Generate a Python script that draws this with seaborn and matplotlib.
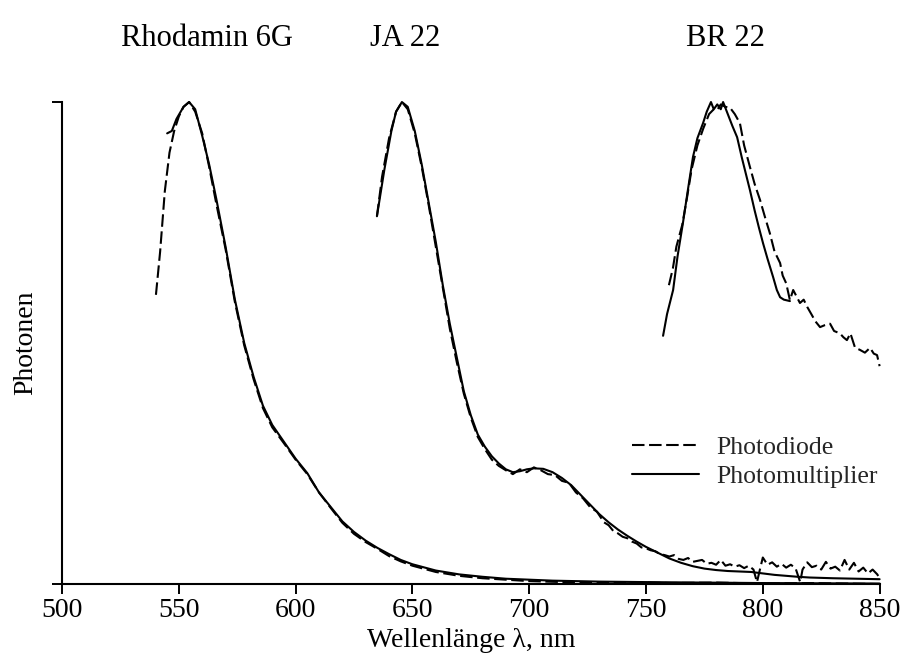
import matplotlib
matplotlib.use("Agg")
import matplotlib.pyplot as plt
import seaborn as sns
import pandas as pd

# ------------------------------------------------------------------------------
# Data (normalised photon counts vs. wavelength in nm)
# ------------------------------------------------------------------------------

# Rhodamin 6G
r6g_pm_wl = [545, 547, 549, 552, 554.4, 557, 560, 563, 566, 570, 574, 578, 582, 586,
             590, 595, 600, 605, 610, 615, 620, 625, 630, 635, 640, 645, 650, 660,
             670, 680, 690, 700, 710, 730, 750, 775, 800, 850]
r6g_pm_val = [0.935, 0.94, 0.965, 0.99, 1.0, 0.985, 0.93, 0.87, 0.80, 0.70, 0.59, 0.50,
              0.43, 0.37, 0.33, 0.295, 0.26, 0.23, 0.19, 0.16, 0.13, 0.108, 0.09, 0.075,
              0.062, 0.05, 0.041, 0.028, 0.02, 0.015, 0.011, 0.009, 0.007, 0.005, 0.004,
              0.003, 0.002, 0.001]
r6g_pd_wl = [540.2, 542, 544, 546, 548, 550, 552, 554.4, 557, 560, 563, 566, 570, 574,
             578, 582, 586, 590, 595, 600, 605, 610, 615, 620, 625, 630, 635, 640, 645,
             650, 660, 670, 680, 690, 700, 715, 730, 745, 760, 780, 800, 820, 850]
r6g_pd_val = [0.60, 0.69, 0.815, 0.895, 0.94, 0.97, 0.99, 1.0, 0.98, 0.935, 0.865, 0.79,
              0.695, 0.585, 0.495, 0.425, 0.365, 0.325, 0.292, 0.258, 0.228, 0.19, 0.158,
              0.127, 0.104, 0.087, 0.073, 0.058, 0.047, 0.038, 0.025, 0.017, 0.012,
              0.009, 0.006, 0.004, 0.003, 0.004, 0.002, 0.003, 0.001, 0.002, 0.0]

# JA 22
ja22_pm_wl = [634.8, 638, 641, 643, 645.5, 648, 651, 654, 657, 660, 663, 666, 669, 672,
              675, 678, 681, 684, 687, 690, 693, 696, 699, 702, 706, 710, 714, 718, 722,
              726, 730, 734, 738, 742, 746, 750, 755, 760, 765, 770, 775, 780, 785, 790,
              795, 800, 805, 810, 815, 820, 830, 840, 850]
ja22_pm_val = [0.763, 0.86, 0.94, 0.98, 1.0, 0.99, 0.94, 0.87, 0.79, 0.71, 0.62, 0.54,
               0.47, 0.40, 0.35, 0.31, 0.285, 0.265, 0.25, 0.238, 0.232, 0.234, 0.238,
               0.24, 0.239, 0.232, 0.22, 0.205, 0.185, 0.165, 0.145, 0.128, 0.113, 0.1,
               0.088, 0.077, 0.065, 0.053, 0.044, 0.037, 0.032, 0.029, 0.027, 0.026,
               0.025, 0.022, 0.019, 0.017, 0.015, 0.0135, 0.012, 0.011, 0.01]
ja22_pd_wl = [634.8, 637, 640, 643, 645.5, 648, 651, 654, 657, 660, 663, 666, 669, 672,
              675, 678, 681, 684, 687, 690, 693, 696, 699, 702, 705, 708, 711, 714, 717,
              720, 723, 726, 729, 732, 734, 736, 738, 740, 742, 744, 746, 748, 750, 752,
              754, 756, 758, 760, 762, 764, 766, 768, 770, 772, 774, 776, 778, 780, 782,
              784, 786, 788, 790, 792, 794, 796, 797.5, 799, 800, 802, 804, 806, 808,
              810, 812, 814, 816, 817, 819, 821, 823, 825, 827, 829, 831, 833, 835, 837,
              839, 841, 843, 845, 847, 849, 850]
ja22_pd_val = [0.763, 0.845, 0.925, 0.98, 1.0, 0.985, 0.935, 0.865, 0.785, 0.70, 0.615,
               0.53, 0.46, 0.395, 0.345, 0.305, 0.28, 0.258, 0.245, 0.236, 0.228, 0.238,
               0.232, 0.242, 0.236, 0.228, 0.226, 0.214, 0.21, 0.19, 0.178, 0.16, 0.15,
               0.128, 0.122, 0.11, 0.105, 0.098, 0.095, 0.088, 0.084, 0.076, 0.074, 0.07,
               0.068, 0.062, 0.06, 0.057, 0.06, 0.052, 0.05, 0.054, 0.046, 0.048, 0.05,
               0.042, 0.044, 0.04, 0.05, 0.038, 0.041, 0.036, 0.039, 0.033, 0.038, 0.03,
               0.004, 0.035, 0.055, 0.04, 0.045, 0.036, 0.042, 0.034, 0.04, 0.033, 0.004,
               0.03, 0.045, 0.035, 0.038, 0.03, 0.046, 0.032, 0.036, 0.028, 0.05, 0.03,
               0.044, 0.026, 0.034, 0.022, 0.03, 0.02, 0.012]

# BR 22
br22_pm_wl = [757.3, 759, 761.6, 763.5, 765.8, 768, 770.1, 772, 774.4, 776, 777.8, 779,
              780.5, 782, 783, 785, 787, 789, 791, 792.8, 794.5, 796.5, 798.3, 800.1,
              802, 804.4, 806, 807.4, 809, 811.6]
br22_pm_val = [0.515, 0.56, 0.61, 0.68, 0.749, 0.82, 0.886, 0.925, 0.956, 0.98, 1.0,
               0.985, 0.995, 0.985, 1.0, 0.975, 0.95, 0.927, 0.885, 0.85, 0.817, 0.775,
               0.74, 0.707, 0.675, 0.637, 0.61, 0.595, 0.59, 0.587]
br22_pd_wl = [759.8, 761.5, 763, 765.5, 767.5, 769.5, 772, 774.5, 777, 779, 780.4, 782,
              784, 786, 788, 790.2, 792, 794.5, 796.5, 798.8, 801, 803, 805, 807.4,
              808.5, 810, 811.6, 813, 815.9, 817.5, 819, 821, 822.5, 824.5, 826.5, 828.8,
              830.5, 833, 834.5, 836, 837.5, 839.5, 841.5, 843.7, 845.9, 847.5, 848.9, 850]
br22_pd_val = [0.62, 0.655, 0.70, 0.745, 0.80, 0.86, 0.91, 0.945, 0.975, 0.985, 0.983,
               0.995, 0.99, 0.988, 0.975, 0.956, 0.91, 0.865, 0.83, 0.797, 0.76, 0.728,
               0.69, 0.666, 0.64, 0.624, 0.589, 0.61, 0.583, 0.59, 0.575, 0.558, 0.545,
               0.533, 0.537, 0.54, 0.525, 0.52, 0.512, 0.506, 0.52, 0.49, 0.486, 0.48,
               0.49, 0.478, 0.475, 0.452]

dye_labels = ["Rhodamin 6G", "JA 22", "BR 22"]
dye_label_x = [562, 646.8, 783.8]
detectors = ["Photodiode", "Photomultiplier"]
x_ticks = [500, 550, 600, 650, 700, 750, 800, 850]

# ------------------------------------------------------------------------------
# Long table for seaborn
# ------------------------------------------------------------------------------
series = [
    ("Rhodamin 6G", "Photodiode", r6g_pd_wl, r6g_pd_val),
    ("Rhodamin 6G", "Photomultiplier", r6g_pm_wl, r6g_pm_val),
    ("JA 22", "Photodiode", ja22_pd_wl, ja22_pd_val),
    ("JA 22", "Photomultiplier", ja22_pm_wl, ja22_pm_val),
    ("BR 22", "Photodiode", br22_pd_wl, br22_pd_val),
    ("BR 22", "Photomultiplier", br22_pm_wl, br22_pm_val),
]
frames = []
for dye, det, wl, val in series:
    frames.append(pd.DataFrame({"wl": wl, "photons": val, "dye": dye, "detector": det}))
df = pd.concat(frames, ignore_index=True)

# ------------------------------------------------------------------------------
# Plot
# ------------------------------------------------------------------------------
sns.set_theme(style="ticks")
plt.rcParams["font.family"] = ["Liberation Serif", "DejaVu Serif"]

fig = plt.figure(figsize=(9.03, 6.54), dpi=100)
ax = fig.add_axes([0.0687, 0.107, 0.9054, 0.737])

sns.lineplot(data=df, x="wl", y="photons", style="detector", units="dye",
             estimator=None, sort=False, color="black", linewidth=1.5,
             style_order=detectors,
             dashes={"Photodiode": (6, 2.2), "Photomultiplier": ""},
             ax=ax, legend=True)
for line in ax.lines:
    line.set_clip_on(False)

ax.set_xlim(500, 850)
ax.set_ylim(0, 1)
ax.set_xticks(x_ticks)
ax.set_yticks([0, 1])
ax.set_yticklabels([])
ax.tick_params(axis="x", direction="out", length=7, width=1.4, labelsize=20,
               pad=3, color="black", labelcolor="black")
ax.tick_params(axis="y", direction="out", length=7.5, width=1.4, color="black")
for side in ["top", "right"]:
    ax.spines[side].set_visible(False)
for side in ["left", "bottom"]:
    ax.spines[side].set_linewidth(1.5)
    ax.spines[side].set_color("black")

ax.set_xlabel("Wellenlänge λ, nm", fontsize=20, color="black", labelpad=4)
ax.set_ylabel("Photonen", fontsize=20, color="black")
ax.yaxis.set_label_coords(-0.029, 0.5)

for name, xpos in zip(dye_labels, dye_label_x):
    ax.text(xpos, 1.116, name, transform=ax.get_xaxis_transform(), ha="center",
            va="baseline", fontsize=22, color="black")

handles, labels = ax.get_legend_handles_labels()
ax.legend(handles, labels, loc="center left", bbox_to_anchor=(0.697, 0.253),
          frameon=False, fontsize=18.5, handlelength=2.6, handletextpad=0.7,
          labelspacing=0.25, borderpad=0, borderaxespad=0)

fig.savefig("out.png", dpi=100, facecolor="white")
plt.close(fig)
